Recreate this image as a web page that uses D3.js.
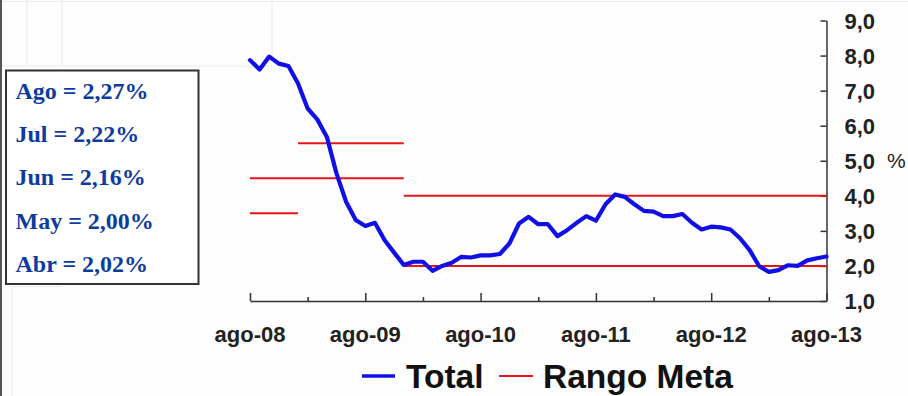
<!DOCTYPE html>
<html>
<head>
<meta charset="utf-8">
<script src="https://cdn.jsdelivr.net/npm/d3@7/dist/d3.min.js"></script>
<style>
  html, body { margin: 0; padding: 0; background: #fdfdfd; }
  svg { display: block; }
</style>
</head>
<body>
<svg id="chart" width="908" height="396"></svg>
<script>
// ---- Data ----
// Monthly index: 0 = ago-08 ... 60 = ago-13
const totalValues = [
  7.87, 7.60, 7.97, 7.77, 7.70, 7.20, 6.49, 6.18, 5.68, 4.64,
  3.83, 3.31, 3.14, 3.23, 2.74, 2.38, 2.03, 2.12, 2.12, 1.86,
  2.00, 2.09, 2.26, 2.24, 2.30, 2.30, 2.34, 2.64, 3.21, 3.40,
  3.19, 3.19, 2.85, 3.02, 3.23, 3.42, 3.29, 3.76, 4.04, 3.97,
  3.76, 3.57, 3.55, 3.42, 3.42, 3.48, 3.23, 3.04, 3.12, 3.10,
  3.04, 2.79, 2.45, 1.99, 1.83, 1.88, 2.02, 2.00, 2.16, 2.22,
  2.27
];
// Rango Meta segments (month index start/end, value)
const metaStart = [0, 0, 5, 16, 16];
const metaEnd   = [5, 16, 16, 60, 60];
const metaValue = [3.5, 4.5, 5.5, 4.0, 2.0];

const xTickMonths = [0, 6, 12, 18, 24, 30, 36, 42, 48, 54, 60];
const xLabelMonths = [0, 12, 24, 36, 48, 60];
const xLabels = ["ago-08", "ago-09", "ago-10", "ago-11", "ago-12", "ago-13"];
const yTicks = [1, 2, 3, 4, 5, 6, 7, 8, 9];
const yTickLabels = ["1,0", "2,0", "3,0", "4,0", "5,0", "6,0", "7,0", "8,0", "9,0"];
const boxLabels = ["Ago = 2,27%", "Jul = 2,22%", "Jun = 2,16%", "May = 2,00%", "Abr = 2,02%"];
const legendLabels = ["Total", "Rango Meta"];

// ---- Setup ----
const svg = d3.select("#chart");
const blue = "#1010e6";
const red = "#e8141c";
const axisColor = "#333";
const sans = "'Liberation Sans', Arial, sans-serif";
const serif = "'Liberation Serif', 'Times New Roman', serif";

const x = d3.scaleLinear().domain([0, 60]).range([250, 826.5]);
const y = d3.scaleLinear().domain([1, 9]).range([301, 20.5]);

// background slide artifacts
svg.append("rect").attr("x", 0).attr("y", 0).attr("width", 908).attr("height", 396).attr("fill", "#fdfdfd");
const faint = svg.append("g").attr("stroke", "#ebebeb").attr("stroke-width", 1.2);
faint.append("line").attr("x1", 27).attr("x2", 27).attr("y1", 0).attr("y2", 66);
faint.append("line").attr("x1", 62).attr("x2", 62).attr("y1", 0).attr("y2", 66);
faint.append("line").attr("x1", 272).attr("x2", 272).attr("y1", 0).attr("y2", 60);
faint.append("line").attr("x1", 0).attr("x2", 272).attr("y1", 66).attr("y2", 66);
faint.append("line").attr("x1", 0).attr("x2", 908).attr("y1", 1.5).attr("y2", 1.5);
faint.append("line").attr("x1", 12).attr("x2", 12).attr("y1", 287).attr("y2", 396);
faint.append("line").attr("x1", 12).attr("x2", 62).attr("y1", 286.5).attr("y2", 286.5);
svg.append("line").attr("x1", 1).attr("x2", 1).attr("y1", 0).attr("y2", 396)
  .attr("stroke", "#555").attr("stroke-width", 2);

// ---- Axes ----
const xAxis = d3.axisBottom(x).tickValues(xTickMonths).tickSize(0).tickFormat("");
const gx = svg.append("g").attr("transform", `translate(0,${y(1)})`).call(xAxis);
gx.select(".domain").attr("stroke", axisColor).attr("stroke-width", 1.5);
gx.selectAll(".tick line").remove();
gx.selectAll(".tick").append("line")
  .attr("y1", 0)
  .attr("y2", d => xLabelMonths.includes(d) ? -8 : -4)
  .attr("stroke", axisColor).attr("stroke-width", 1.5);

svg.append("g").selectAll("text").data(xLabelMonths).join("text")
  .attr("x", d => x(d)).attr("y", 341.5)
  .attr("text-anchor", "middle")
  .attr("font-family", sans).attr("font-weight", "bold").attr("font-size", 22)
  .attr("fill", "#222")
  .text((d, i) => xLabels[i]);

const yAxis = d3.axisRight(y).tickValues(yTicks).tickSize(0)
  .tickFormat((d, i) => yTickLabels[i]);
const gy = svg.append("g").attr("transform", `translate(${x(60)},0)`).call(yAxis);
gy.select(".domain").attr("stroke", axisColor).attr("stroke-width", 1.5);
gy.selectAll(".tick").append("line").attr("x1", 0).attr("x2", -6)
  .attr("stroke", axisColor).attr("stroke-width", 1.5);
gy.selectAll(".tick text")
  .attr("x", 18).attr("dy", "0.35em")
  .attr("font-family", sans).attr("font-weight", "bold").attr("font-size", 22)
  .attr("fill", "#222");

svg.append("text").attr("x", 887).attr("y", y(5)).attr("dy", "0.35em")
  .attr("font-family", sans).attr("font-size", 21).attr("fill", "#222")
  .text("%");

// ---- Rango Meta ----
svg.append("g").selectAll("line").data(metaValue).join("line")
  .attr("x1", (d, i) => x(metaStart[i]))
  .attr("x2", (d, i) => x(metaEnd[i]))
  .attr("y1", d => y(d)).attr("y2", d => y(d))
  .attr("stroke", red).attr("stroke-width", 2);

// ---- Total line ----
const line = d3.line().x((d, i) => x(i)).y(d => y(d)).curve(d3.curveLinear);
svg.append("path").datum(totalValues)
  .attr("d", line)
  .attr("fill", "none").attr("stroke", blue)
  .attr("stroke-width", 4.2).attr("stroke-linejoin", "round").attr("stroke-linecap", "round");

// ---- Box ----
svg.append("rect").attr("x", 6).attr("y", 70.5).attr("width", 192.5).attr("height", 213.5)
  .attr("fill", "#fff").attr("stroke", "#333").attr("stroke-width", 2);
svg.append("g").selectAll("text").data(boxLabels).join("text")
  .attr("x", 15.5).attr("y", (d, i) => 99 + i * 43.2)
  .attr("font-family", serif).attr("font-weight", "bold").attr("font-size", 24)
  .attr("fill", "#0e3c9e")
  .text(d => d);

// ---- Legend ----
const lg = svg.append("g");
lg.append("line").attr("x1", 362).attr("x2", 395).attr("y1", 376).attr("y2", 376)
  .attr("stroke", blue).attr("stroke-width", 3.5);
lg.append("text").attr("x", 406).attr("y", 387.5)
  .attr("font-family", sans).attr("font-weight", "bold").attr("font-size", 33.5)
  .attr("fill", "#111").text(legendLabels[0]);
lg.append("line").attr("x1", 499).attr("x2", 533).attr("y1", 376).attr("y2", 376)
  .attr("stroke", red).attr("stroke-width", 2);
lg.append("text").attr("x", 543).attr("y", 387.5)
  .attr("font-family", sans).attr("font-weight", "bold").attr("font-size", 33.5)
  .attr("fill", "#111").text(legendLabels[1]);
</script>
</body>
</html>
